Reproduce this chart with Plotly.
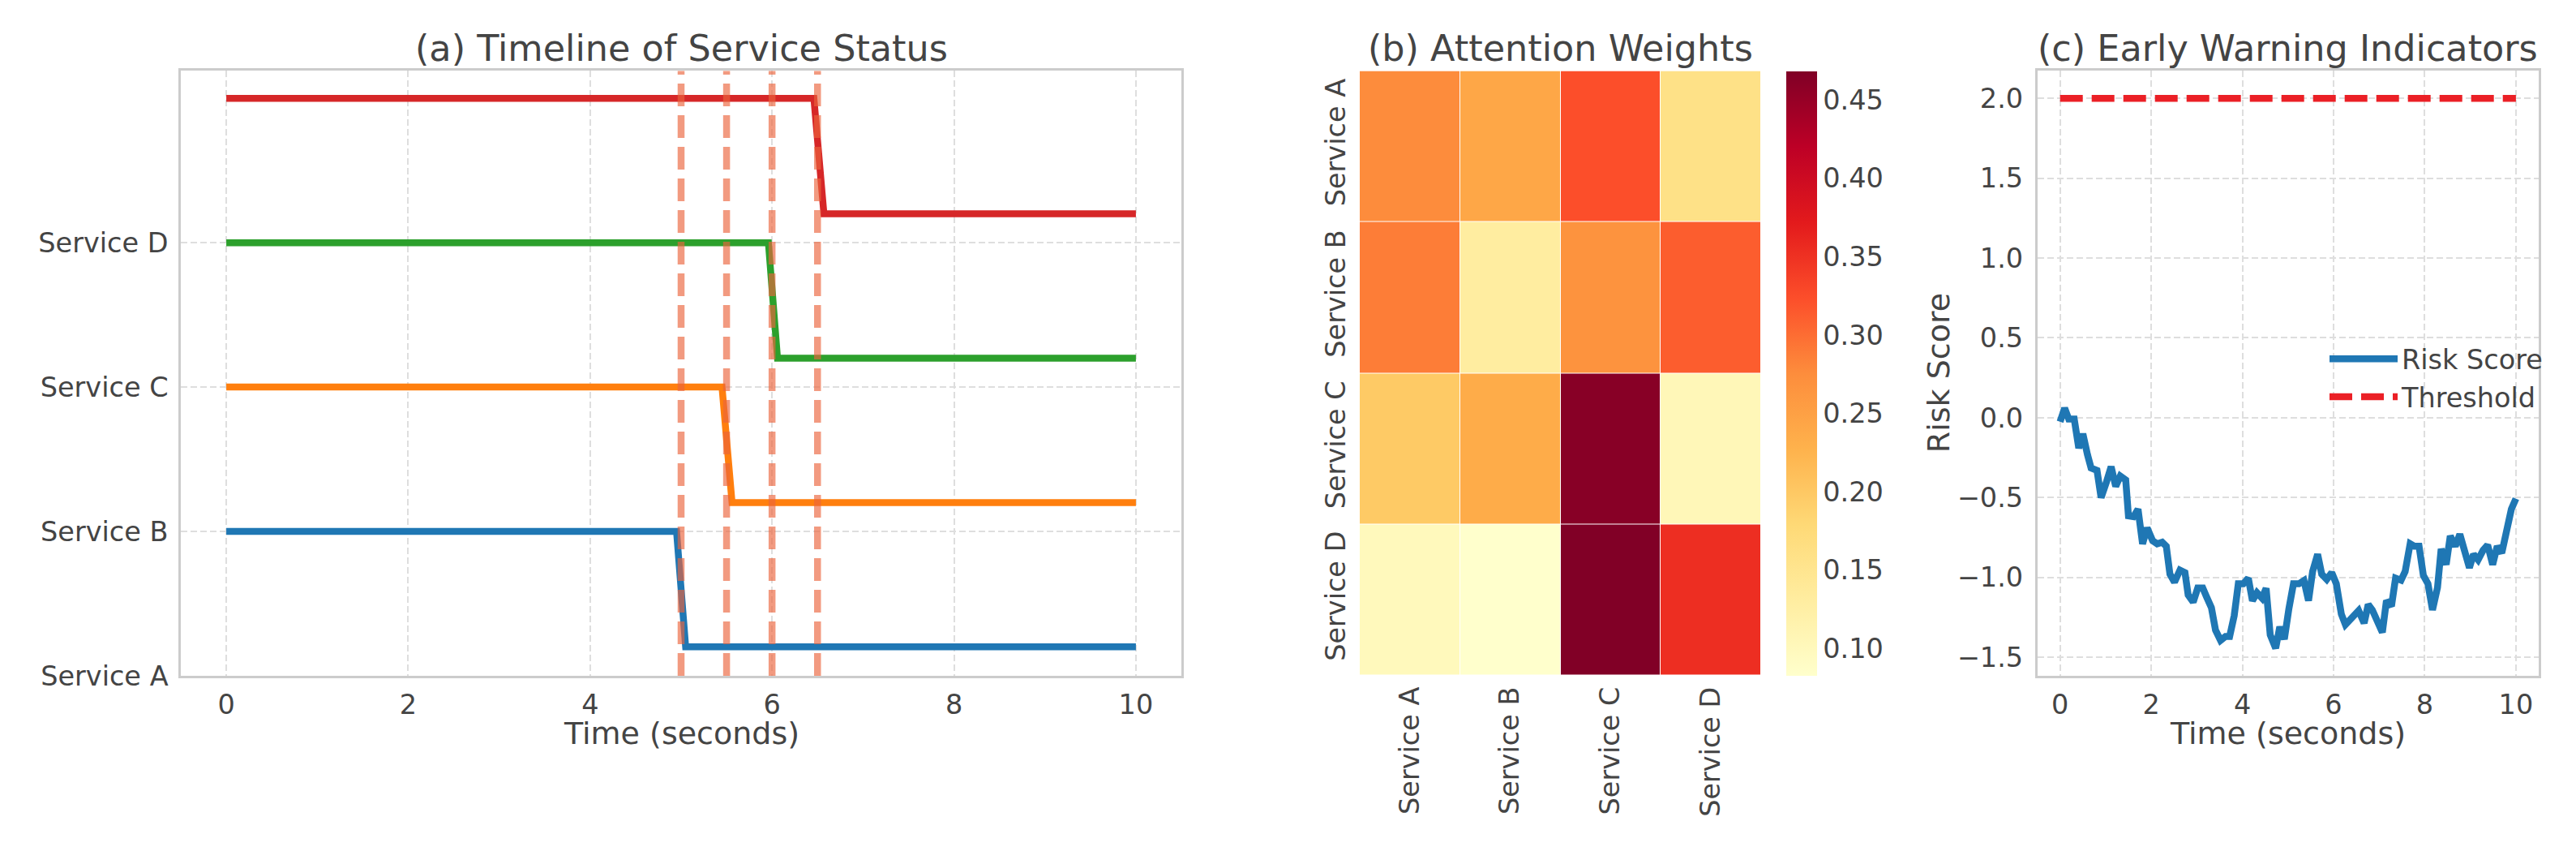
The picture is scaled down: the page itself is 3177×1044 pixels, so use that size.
import plotly.graph_objects as go

# ---- data ----
services = ["Service A", "Service B", "Service C", "Service D"]
healthy_level = [1.0, 2.0, 3.0, 4.0]
degraded_level = [0.2, 1.2, 2.2, 3.2]
drop_start = [4.95, 5.45, 5.96, 6.46]
drop_end = [5.05, 5.56, 6.06, 6.57]
failure_times = [5.0, 5.5, 6.0, 6.5]
line_colors = ["#1f77b4", "#ff7f0e", "#2ca02c", "#d62728"]

attention = [
    [0.276, 0.241, 0.324, 0.160],
    [0.288, 0.131, 0.268, 0.312],
    [0.198, 0.235, 0.462, 0.105],
    [0.100, 0.083, 0.468, 0.353],
]
cbar_ticks = [0.10, 0.15, 0.20, 0.25, 0.30, 0.35, 0.40, 0.45]

risk_time = [0.0, 0.10, 0.19, 0.31, 0.41, 0.50, 0.60, 0.68, 0.81, 0.90,
             1.02, 1.12, 1.22, 1.32, 1.44, 1.50, 1.61, 1.71, 1.81, 1.91,
             2.03, 2.13, 2.24, 2.33, 2.41, 2.51, 2.63, 2.74, 2.81, 2.92,
             3.02, 3.13, 3.21, 3.32, 3.41, 3.52, 3.63, 3.72, 3.82, 3.91,
             4.02, 4.13, 4.22, 4.32, 4.43, 4.52, 4.61, 4.73, 4.82, 4.92,
             5.02, 5.12, 5.24, 5.35, 5.45, 5.54, 5.65, 5.74, 5.85, 5.96,
             6.06, 6.17, 6.26, 6.375, 6.46, 6.55, 6.67, 6.76, 6.85, 6.97,
             7.07, 7.16, 7.27, 7.36, 7.48, 7.57, 7.68, 7.77, 7.875, 7.97,
             8.07, 8.17, 8.28, 8.36, 8.47, 8.56, 8.67, 8.77, 8.875, 8.98,
             9.07, 9.17, 9.28, 9.38, 9.49, 9.59, 9.69, 9.80, 9.90, 10.0]
risk_score = [-0.025, 0.06, -0.008, -0.008, -0.19, -0.10, -0.23, -0.315, -0.33, -0.50,
              -0.40, -0.307, -0.43, -0.365, -0.39, -0.615, -0.62, -0.573, -0.79, -0.69,
              -0.77, -0.79, -0.78, -0.805, -0.98, -1.03, -0.955, -0.97, -1.11, -1.155,
              -1.066, -1.066, -1.12, -1.19, -1.33, -1.395, -1.37, -1.37, -1.24, -1.04,
              -1.04, -1.005, -1.146, -1.096, -1.13, -1.068, -1.36, -1.444, -1.31, -1.387,
              -1.196, -1.04, -1.04, -1.02, -1.146, -0.963, -0.855, -0.98, -1.013, -0.97,
              -1.04, -1.23, -1.296, -1.262, -1.25, -1.208, -1.287, -1.17, -1.204, -1.296,
              -1.345, -1.146, -1.18, -1.005, -1.018, -0.963, -0.79, -0.805, -0.805, -0.988,
              -1.04, -1.204, -1.063, -0.822, -0.92, -0.74, -0.805, -0.73, -0.855, -0.94,
              -0.855, -0.89, -0.83, -0.797, -0.92, -0.805, -0.847, -0.68, -0.573, -0.507]
threshold_time = [0, 10]
threshold = [2.0, 2.0]

time_ticks = [0, 2, 4, 6, 8, 10]
risk_ticks = [-1.5, -1.0, -0.5, 0.0, 0.5, 1.0, 1.5, 2.0]

# ---- layout constants (pixels of the 3177x1044 page) ----
W, H = 3177, 1044
FONT = "DejaVu Sans"
TXT = "#444444"
TICK, LABEL, TITLE = 33.5, 38, 44.5
LW = 8.5
ylo, yhi = 1 - 841 / H, 1 - 81 / H
dom_a = [215 / W, 1449 / W]
dom_b = [1669 / W, 2164 / W]
dom_c = [2504.6 / W, 3123 / W]

ylorrd = ["#ffffcc", "#ffeda0", "#fed976", "#feb24c", "#fd8d3c",
          "#fc4e2a", "#e31a1c", "#bd0026", "#800026"]
colorscale = [[i / 8, c] for i, c in enumerate(ylorrd)]

fig = go.Figure()

# (a) timeline of service status
for i in range(len(services)):
    fig.add_trace(go.Scatter(
        x=[0, drop_start[i], drop_end[i], 10],
        y=[healthy_level[i], healthy_level[i], degraded_level[i], degraded_level[i]],
        mode="lines", line=dict(color=line_colors[i], width=LW),
        showlegend=False, xaxis="x", yaxis="y"))

for t in failure_times:
    fig.add_shape(type="line", xref="x", yref="y domain", x0=t, x1=t, y0=0, y1=1,
                  line=dict(color="rgba(235,100,60,0.65)", width=LW, dash="28px,11px"))

# (b) attention weights
fig.add_trace(go.Heatmap(
    z=attention, x=services, y=services, colorscale=colorscale,
    zmin=0.0826, zmax=0.4684, xgap=1, ygap=1, xaxis="x2", yaxis="y2",
    colorbar=dict(x=2195 / W, xanchor="left", y=(ylo + yhi) / 2, yanchor="middle",
                  len=yhi - ylo, thickness=38, xpad=0, ypad=0, outlinewidth=0,
                  tickvals=cbar_ticks, ticktext=["%.2f" % v for v in cbar_ticks],
                  tickfont=dict(family=FONT, size=TICK, color=TXT), ticks="")))

# (c) early warning indicators
fig.add_trace(go.Scatter(x=risk_time, y=risk_score, mode="lines", name="Risk Score",
                         line=dict(color="#1f77b4", width=LW), xaxis="x3", yaxis="y3"))
fig.add_trace(go.Scatter(x=threshold_time, y=threshold, mode="lines", name="Threshold",
                         line=dict(color="rgb(235,32,38)", width=LW, dash="28px,11px"),
                         xaxis="x3", yaxis="y3"))

grid = dict(showgrid=True, gridcolor="#dedede", gridwidth=1.5, griddash="8px,4px",
            showline=True, mirror=True, linecolor="#cccccc", linewidth=2.5,
            zeroline=False, ticks="", tickfont=dict(family=FONT, size=TICK, color=TXT))


def label(text, x, y, angle=0, size=LABEL):
    return dict(text=text, x=x, y=y, xref="paper", yref="paper", textangle=angle,
                xanchor="center", yanchor="middle", showarrow=False,
                font=dict(family=FONT, size=size, color=TXT))


annotations = [label("Time (seconds)", (dom_a[0] + dom_a[1]) / 2, 1 - 914 / H),
               label("Time (seconds)", (dom_c[0] + dom_c[1]) / 2, 1 - 914 / H),
               label("Risk Score", 2383 / W, (ylo + yhi) / 2, -90)]
for txt, d in [("(a) Timeline of Service Status", dom_a),
               ("(b) Attention Weights", dom_b),
               ("(c) Early Warning Indicators", dom_c)]:
    annotations.append(label(txt, (d[0] + d[1]) / 2, 1 - 52 / H, size=TITLE))

fig.update_layout(
    width=W, height=H, margin=dict(l=0, r=0, t=0, b=0),
    paper_bgcolor="white", plot_bgcolor="white",
    font=dict(family=FONT, color=TXT),
    xaxis=dict(domain=dom_a, anchor="y", range=[-0.5, 10.5], tickvals=time_ticks,
               ticklabelstandoff=4, **grid),
    yaxis=dict(domain=[ylo, yhi], anchor="x", range=[0, 4.19], tickvals=[0, 1, 2, 3],
               ticktext=services, ticklabelstandoff=6, **grid),
    xaxis2=dict(domain=dom_b, anchor="y2", tickangle=-90, showgrid=False, zeroline=False,
                ticks="", ticklabelstandoff=6,
                tickfont=dict(family=FONT, size=TICK, color=TXT)),
    yaxis2=dict(domain=[ylo, yhi], anchor="x2", autorange="reversed", tickangle=-90,
                showgrid=False, zeroline=False, ticks="", ticklabelstandoff=10,
                tickfont=dict(family=FONT, size=TICK, color=TXT)),
    xaxis3=dict(domain=dom_c, anchor="y3", range=[-0.5, 10.5], tickvals=time_ticks,
                ticklabelstandoff=4, **grid),
    yaxis3=dict(domain=[ylo, yhi], anchor="x3", range=[-1.616, 2.172], tickvals=risk_ticks,
                tickformat=".1f", ticklabelstandoff=8, **grid),
    legend=dict(x=2860 / W, xanchor="left", y=1 - 467 / H, yanchor="middle",
                bgcolor="rgba(255,255,255,0)", itemwidth=84,
                font=dict(family=FONT, size=TICK, color=TXT)),
    annotations=annotations,
)

fig.write_html("out.html")
